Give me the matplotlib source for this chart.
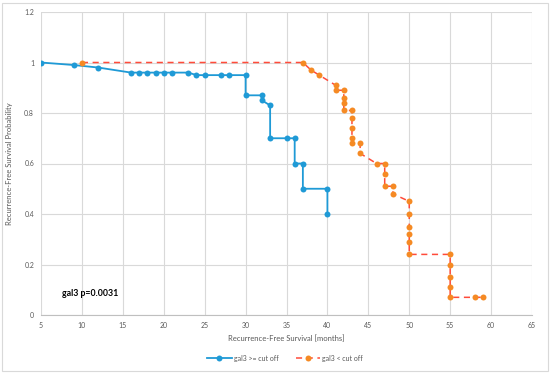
import matplotlib.pyplot as plt
from matplotlib.patches import Rectangle

plt.rcParams['font.family'] = ['Lato', 'DejaVu Sans']

# gal3 >= cut off
high_x = [5, 9, 12, 16, 17, 18, 19, 20, 21, 23, 24, 25, 27, 28, 30, 30, 32, 32,
          33, 33, 35, 36, 36, 37, 37, 40, 40]
high_y = [1.0, 0.99, 0.98, 0.96, 0.96, 0.96, 0.96, 0.96, 0.96, 0.96, 0.95, 0.95,
          0.95, 0.95, 0.95, 0.87, 0.87, 0.85, 0.83, 0.70, 0.70, 0.70, 0.60, 0.60,
          0.50, 0.50, 0.40]

# gal3 < cut off
low_x = [10, 37, 38, 39, 41, 41, 42, 42, 42, 42, 43, 43, 43, 43, 43, 44, 44, 46,
         47, 47, 47, 48, 48, 50, 50, 50, 50, 50, 50, 55, 55, 55, 55, 55, 58, 59]
low_y = [1.0, 1.0, 0.97, 0.95, 0.91, 0.89, 0.89, 0.86, 0.84, 0.81, 0.81, 0.78,
         0.74, 0.70, 0.68, 0.68, 0.64, 0.60, 0.60, 0.56, 0.51, 0.51, 0.48, 0.45,
         0.40, 0.35, 0.32, 0.29, 0.24, 0.24, 0.20, 0.15, 0.11, 0.07, 0.07, 0.07]

x_ticks = list(range(5, 66, 5))
y_ticks = [0, 0.2, 0.4, 0.6, 0.8, 1, 1.2]
y_labels = ["0", "0.2", "0.4", "0.6", "0.8", "1", "1.2"]

fig = plt.figure(figsize=(5.5, 3.73), dpi=100)
ax = fig.add_axes([41 / 550, 1 - 315 / 373, (532 - 41) / 550, (315 - 12) / 373])

ax.plot(high_x, high_y, color="#1f9ad6", lw=1.3, marker="o", ms=4.3, mew=0,
        label="gal3 >= cut off")
ax.plot(low_x, low_y, color="#ff4b3a", lw=1.1, ls=(0, (4, 3)), marker="o", ms=4.3,
        mew=0, mfc="#f58a24", label="gal3 < cut off")

ax.set_xlim(5, 65)
ax.set_ylim(0, 1.2)
ax.set_xticks(x_ticks)
ax.set_yticks(y_ticks)
ax.set_yticklabels(y_labels)
ax.grid(True, color="#d9d9d9", lw=0.8)
ax.set_axisbelow(True)
for s in ["top", "right", "left"]:
    ax.spines[s].set_visible(False)
ax.spines["bottom"].set_color("#bfbfbf")
ax.tick_params(length=0, labelsize=5, colors="#595959", pad=5)

ax.set_xlabel("Recurrence-Free Survival [months]", fontsize=5.5, color="#595959", labelpad=4)
ax.set_ylabel("Recurrence-Free Survival Probability", fontsize=5.5, color="#595959", labelpad=8)

ax.text(7.6, 0.085, "gal3 p=0.0031", fontsize=6.3, fontweight="bold", color="black", va="center")

ax.legend(loc="upper center", bbox_to_anchor=(0.497, -0.11), ncol=2, frameon=False,
          fontsize=5, labelcolor="#595959", handlelength=3.5, columnspacing=2.5,
          handletextpad=0.3)

fig.patches.append(Rectangle((2 / 550, 2 / 373), 546 / 550, 368 / 373,
                             transform=fig.transFigure, fill=False, ec="#d9d9d9", lw=0.8))

fig.savefig("out.png", dpi=100)
